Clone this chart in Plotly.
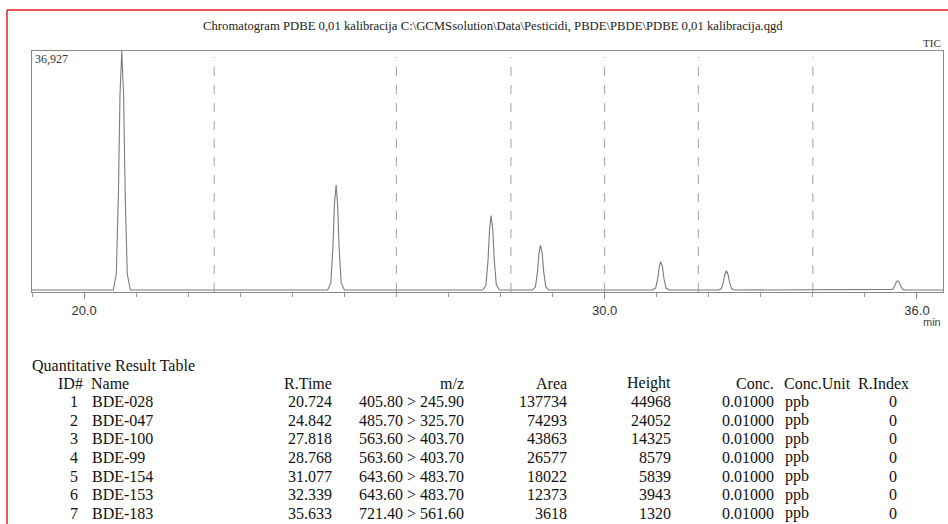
import plotly.graph_objects as go

# ---------------- data ----------------
trace_time = [19.00,
    20.56, 20.62, 20.66, 20.69, 20.724, 20.76, 20.79, 20.83, 20.89,
    24.68, 24.74, 24.78, 24.81, 24.842, 24.87, 24.90, 24.94, 25.00,
    27.66, 27.72, 27.76, 27.79, 27.818, 27.85, 27.88, 27.92, 27.98,
    28.61, 28.67, 28.71, 28.74, 28.768, 28.80, 28.83, 28.87, 28.93,
    30.92, 30.98, 31.02, 31.05, 31.077, 31.11, 31.14, 31.18, 31.24,
    32.18, 32.24, 32.28, 32.31, 32.339, 32.37, 32.40, 32.44, 32.50,
    35.47, 35.53, 35.57, 35.60, 35.633, 35.66, 35.69, 35.73, 35.79,
    36.50]
trace_intensity = [300,
    300, 2800, 15000, 30100, 36927, 30100, 15000, 2800, 300,
    300, 1400, 6700, 13500, 16400, 13500, 6700, 1400, 300,
    300, 1050, 4850, 9650, 11700, 9650, 4850, 1050, 300,
    300, 780, 3060, 5960, 7200, 5960, 3060, 780, 300,
    300, 600, 2040, 3870, 4650, 3870, 2040, 600, 300,
    300, 500, 1480, 2730, 3260, 2730, 1480, 500, 300,
    300, 400, 870, 1470, 1730, 1470, 870, 400, 300,
    300]

window_bounds = [22.5, 26.0, 28.2, 30.0, 31.8, 34.0]
x_tick_vals = [20.0, 30.0, 36.0]
x_tick_text = ["20.0", "30.0", "36.0"]
y_max = 36927
y_max_label = "36,927"

title_text = "Chromatogram PDBE 0,01 kalibracija C:\\GCMSsolution\\Data\\Pesticidi, PBDE\\PBDE\\PDBE 0,01 kalibracija.qgd"

ids = [1, 2, 3, 4, 5, 6, 7]
names = ["BDE-028", "BDE-047", "BDE-100", "BDE-99", "BDE-154", "BDE-153", "BDE-183"]
r_times = ["20.724", "24.842", "27.818", "28.768", "31.077", "32.339", "35.633"]
mz = ["405.80 > 245.90", "485.70 > 325.70", "563.60 > 403.70", "563.60 > 403.70",
      "643.60 > 483.70", "643.60 > 483.70", "721.40 > 561.60"]
areas = [137734, 74293, 43863, 26577, 18022, 12373, 3618]
heights = [44968, 24052, 14325, 8579, 5839, 3943, 1320]
conc = ["0.01000"] * 7
conc_unit = ["ppb"] * 7
r_index = [0] * 7

# ---------------- layout geometry ----------------
W, H = 948, 524
L, R, T, B = 32, 943, 51, 292


def px(xp):
    return (xp - L) / (R - L)


def py(yp):
    return (B - yp) / (B - T)


fig = go.Figure()
fig.add_trace(go.Scatter(x=trace_time, y=trace_intensity, mode="lines",
                         line=dict(color="#7c7c7c", width=1.1), hoverinfo="skip",
                         showlegend=False))

for wb in window_bounds:
    fig.add_shape(type="line", xref="x", yref="y", x0=wb, x1=wb, y0=0, y1=y_max * 0.975,
                  line=dict(color="#a0a0a0", width=1, dash="dash"))

ann = []
serif = "Liberation Serif, Times New Roman, serif"
narrow = "Liberation Sans Narrow, Arial Narrow, Liberation Sans, sans-serif"


def add(text, xp, yp, xanchor="left", size=16, family=serif, color="#111"):
    ann.append(dict(text=text, x=px(xp), y=py(yp), xref="paper", yref="paper",
                    xanchor=xanchor, yanchor="middle", showarrow=False,
                    font=dict(family=family, size=size, color=color)))


add(title_text, 493, 26, "center", 12.7, serif, "#222")
add("TIC", 943, 43, "right", 11, serif, "#333")
add(y_max_label, 33, 59, "left", 12, serif, "#333")
add("min", 943, 322, "right", 11, narrow, "#444")

# table
add("Quantitative Result Table", 30, 365, "left", 16)
row0 = 383
dy = 18.6
add("ID#", 56, row0, "left")
add("Name", 89, row0, "left")
add("R.Time", 334, row0, "right")
add("m/z", 466, row0, "right")
add("Area", 569, row0, "right")
add("Height", 673, row0, "right")
add("Conc.", 776, row0, "right")
add("Conc.Unit", 782, row0, "left")
add("R.Index", 911, row0, "right")
for i in range(len(ids)):
    y = row0 + dy * (i + 1)
    add(str(ids[i]), 80, y, "right")
    add(names[i], 90, y, "left")
    add(r_times[i], 334, y, "right")
    add(mz[i], 466, y, "right")
    add(str(areas[i]), 569, y, "right")
    add(str(heights[i]), 673, y, "right")
    add(conc[i], 776, y, "right")
    add(conc_unit[i], 783, y, "left")
    add(str(r_index[i]), 893, y, "center")

# red frame (left and top edges)
fig.add_shape(type="line", xref="paper", yref="paper", x0=px(7), x1=px(948), y0=py(10), y1=py(10),
              line=dict(color="#e02020", width=1.5))
fig.add_shape(type="line", xref="paper", yref="paper", x0=px(7), x1=px(7), y0=py(10), y1=py(524),
              line=dict(color="#e02020", width=1.5))

fig.update_layout(
    width=W, height=H,
    margin=dict(l=L, r=W - R, t=T, b=H - B),
    paper_bgcolor="white", plot_bgcolor="white",
    annotations=ann,
    showlegend=False,
    xaxis=dict(range=[19.0, 36.5], tickmode="array", tickvals=x_tick_vals, ticktext=x_tick_text,
               ticks="outside", ticklen=6, tickcolor="#888", showgrid=False, zeroline=False,
               showline=True, linecolor="#888", linewidth=1, mirror=True,
               tickfont=dict(family=narrow, size=13, color="#333"),
               minor=dict(tickmode="linear", tick0=19, dtick=1, ticks="outside", ticklen=4,
                          tickcolor="#999")),
    yaxis=dict(range=[0, y_max], showticklabels=False, ticks="", showgrid=False, zeroline=False,
               showline=True, linecolor="#888", linewidth=1, mirror=True),
)

fig.write_html("out.html", config={"displayModeBar": False},
               post_script="document.body.style.margin='0';document.body.style.overflow='hidden';")
